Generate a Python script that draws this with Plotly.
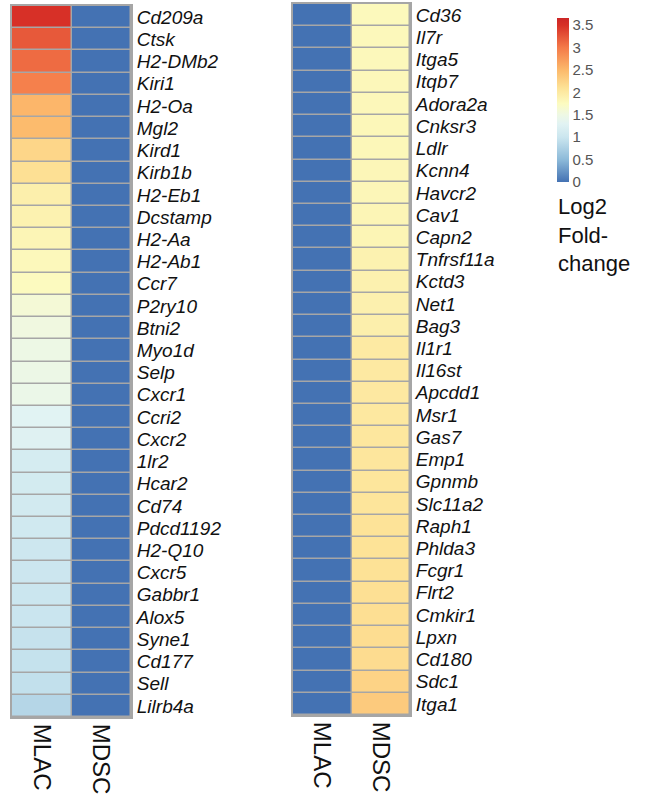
import plotly.graph_objects as go

W, H = 646, 807

columns = ["MLAC", "MDSC"]

left_genes = ["Cd209a", "Ctsk", "H2-DMb2", "Kiri1", "H2-Oa", "Mgl2", "Kird1", "Kirb1b",
              "H2-Eb1", "Dcstamp", "H2-Aa", "H2-Ab1", "Ccr7", "P2ry10", "Btni2", "Myo1d",
              "Selp", "Cxcr1", "Ccri2", "Cxcr2", "1lr2", "Hcar2", "Cd74", "Pdcd1192",
              "H2-Q10", "Cxcr5", "Gabbr1", "Alox5", "Syne1", "Cd177", "Sell", "Lilrb4a"]
left_mlac = [3.50, 3.22, 3.10, 2.95, 2.52, 2.48, 2.22, 2.12,
             1.92, 1.88, 1.83, 1.79, 1.76, 1.60, 1.53, 1.49,
             1.47, 1.45, 1.29, 1.26, 1.13, 1.11, 1.09, 1.06,
             1.02, 1.01, 1.00, 0.99, 0.96, 0.95, 0.93, 0.82]
left_mdsc = [0, 0, 0, 0, 0, 0, 0, 0, 0, 0, 0, 0, 0, 0, 0, 0,
             0, 0, 0, 0, 0, 0, 0, 0, 0, 0, 0, 0, 0, 0, 0, 0]

right_genes = ["Cd36", "Il7r", "Itga5", "Itqb7", "Adora2a", "Cnksr3", "Ldlr", "Kcnn4",
               "Havcr2", "Cav1", "Capn2", "Tnfrsf11a", "Kctd3", "Net1", "Bag3", "Il1r1",
               "Il16st", "Apcdd1", "Msr1", "Gas7", "Emp1", "Gpnmb", "Slc11a2", "Raph1",
               "Phlda3", "Fcgr1", "Flrt2", "Cmkir1", "Lpxn", "Cd180", "Sdc1", "Itga1"]
right_mlac = [0, 0, 0, 0, 0, 0, 0, 0, 0, 0, 0, 0, 0, 0, 0, 0,
              0, 0, 0, 0, 0, 0, 0, 0, 0, 0, 0, 0, 0, 0, 0, 0]
right_mdsc = [1.78, 1.79, 1.79, 1.80, 1.80, 1.81, 1.81, 1.82,
              1.82, 1.83, 1.84, 1.88, 1.89, 1.90, 1.92, 1.99,
              2.00, 2.01, 2.02, 2.03, 2.04, 2.05, 2.06, 2.08,
              2.09, 2.10, 2.12, 2.13, 2.15, 2.16, 2.25, 2.33]

cbar_ticks = [0, 0.5, 1, 1.5, 2, 2.5, 3, 3.5]
cbar_labels = ["0", "0.5", "1", "1.5", "2", "2.5", "3", "3.5"]

CMIN, CMAX = 0.0, 3.66
stops = [(0.0, "#4472b3"), (0.5, "#8dbad9"), (1.0, "#cbe6ef"), (1.3, "#e2f3f3"),
         (1.5, "#eef8e4"), (1.75, "#fcfbc0"), (2.1, "#fde296"), (2.5, "#fcb96b"),
         (3.0, "#f47a49"), (3.5, "#d73027"), (3.66, "#cc2626")]
colorscale = [[v / CMAX, c] for v, c in stops]

FONT = "Liberation Sans, Arial, sans-serif"
GRID = "#a6a6a6"


def px_x(p):
    return p / W


def px_y(p):
    return 1 - p / H


fig = go.Figure()
fig.add_trace(go.Heatmap(
    x=columns, y=left_genes,
    z=[[a, b] for a, b in zip(left_mlac, left_mdsc)],
    zmin=CMIN, zmax=CMAX, colorscale=colorscale, showscale=False,
    xgap=1.5, ygap=1.5, xaxis="x", yaxis="y"))
fig.add_trace(go.Heatmap(
    x=columns, y=right_genes,
    z=[[a, b] for a, b in zip(right_mlac, right_mdsc)],
    zmin=CMIN, zmax=CMAX, colorscale=colorscale, showscale=True,
    xgap=1.5, ygap=1.5, xaxis="x2", yaxis="y2",
    colorbar=dict(x=px_x(557), xanchor="left", xref="paper",
                  y=px_y(18), yanchor="top", yref="paper",
                  len=164, lenmode="pixels", thickness=12,
                  outlinewidth=0, xpad=0, ypad=0,
                  tickvals=cbar_ticks, ticktext=cbar_labels, ticks="",
                  tickfont=dict(family=FONT, size=15, color="#555555"))))

xcommon = dict(side="bottom", tickangle=90, ticks="", showline=True, mirror=True,
               linecolor=GRID, linewidth=2, showgrid=False, zeroline=False,
               tickfont=dict(family=FONT, size=24, color="#111111"))
ycommon = dict(side="right", autorange="reversed", ticks="", showline=True, mirror=True,
               linecolor=GRID, linewidth=2, showgrid=False, zeroline=False,
               ticklabelstandoff=0, tickmode="array",
               tickfont=dict(family=FONT, size=19, color="#111111", style="italic"))

fig.update_layout(
    width=W, height=H,
    margin=dict(l=0, r=0, t=0, b=0),
    paper_bgcolor="white", plot_bgcolor=GRID,
    xaxis=dict(domain=[px_x(12), px_x(131)], anchor="y", **xcommon),
    yaxis=dict(domain=[px_y(717), px_y(6)], anchor="x",
               tickvals=left_genes, ticktext=left_genes, **ycommon),
    xaxis2=dict(domain=[px_x(293), px_x(410)], anchor="y2", **xcommon),
    yaxis2=dict(domain=[px_y(715), px_y(4)], anchor="x2",
                tickvals=right_genes, ticktext=right_genes, **ycommon),
    annotations=[dict(text="Log2<br>Fold-<br>change", xref="paper", yref="paper",
                      x=px_x(556), y=px_y(192), xanchor="left", yanchor="top",
                      align="left", showarrow=False,
                      font=dict(family=FONT, size=22, color="#111111"))],
)

fig.write_html("out.html")
